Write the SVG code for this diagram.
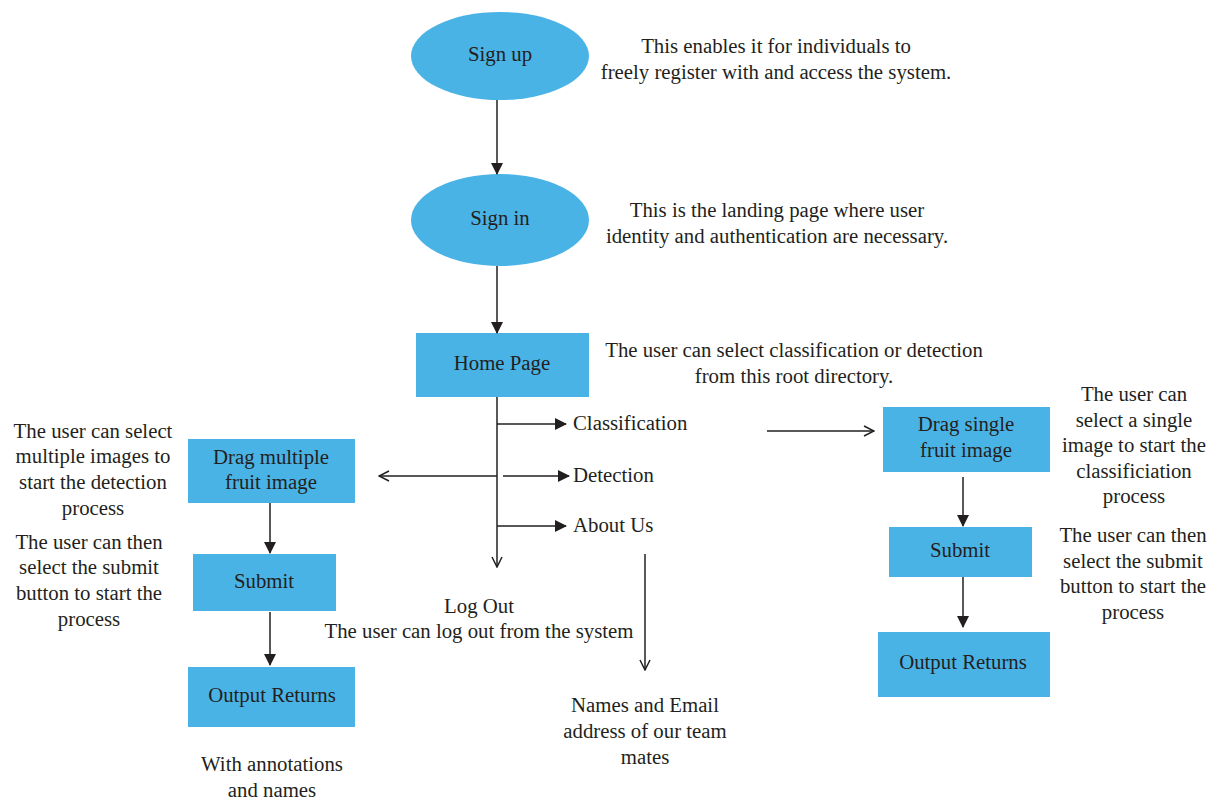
<svg xmlns="http://www.w3.org/2000/svg" width="1222" height="801" viewBox="0 0 1222 801">
<style>
.n{fill:#4AB3E6;}
text{font-family:"Liberation Serif","Times New Roman",serif;font-size:20.8px;fill:#231f20;text-anchor:middle;}
text.s{text-anchor:start;}
.l{fill:none;stroke:#231f20;stroke-width:1.5;}
</style>
<defs>
<marker id="fa" viewBox="0 0 12 12" refX="11" refY="6" markerWidth="12" markerHeight="12" markerUnits="userSpaceOnUse" orient="auto">
<path d="M0,0 L12,6 L0,12 Z" fill="#231f20"/>
</marker>
<marker id="oa" viewBox="0 0 12 12" refX="11" refY="6" markerWidth="12" markerHeight="12" markerUnits="userSpaceOnUse" orient="auto">
<path d="M1,1 L11,6 L1,11" fill="none" stroke="#231f20" stroke-width="1.5"/>
</marker>
</defs>
<rect width="1222" height="801" fill="#fff"/>
<g id="signup"><ellipse class="n" cx="500" cy="56" rx="89" ry="44"/><text x="500" y="61">Sign up</text></g>
<g id="signin"><ellipse class="n" cx="500" cy="220" rx="89" ry="46"/><text x="500" y="225">Sign in</text></g>
<g id="home"><rect class="n" x="416" y="333" width="173" height="64"/><text x="502" y="370">Home Page</text></g>
<g id="dragmulti"><rect class="n" x="188" y="439" width="167" height="64"/><text x="271" y="464">Drag multiple</text><text x="271" y="489">fruit image</text></g>
<g id="submitL"><rect class="n" x="193" y="554" width="143" height="57"/><text x="264" y="588">Submit</text></g>
<g id="outputL"><rect class="n" x="188" y="667" width="167" height="60"/><text x="272" y="702">Output Returns</text></g>
<g id="dragsingle"><rect class="n" x="883" y="407" width="167" height="65"/><text x="966" y="431">Drag single</text><text x="966" y="457">fruit image</text></g>
<g id="submitR"><rect class="n" x="889" y="527" width="143" height="50"/><text x="960" y="557">Submit</text></g>
<g id="outputR"><rect class="n" x="878" y="632" width="172" height="65"/><text x="963" y="669">Output Returns</text></g>
<g id="labels">
<text x="776" y="53">This enables it for individuals to</text>
<text x="776" y="79">freely register with and access the system.</text>
<text x="777" y="217">This is the landing page where user</text>
<text x="777" y="243">identity and authentication are necessary.</text>
<text x="794" y="357">The user can select classification or detection</text>
<text x="794" y="383">from this root directory.</text>
<text class="s" x="573" y="430">Classification</text>
<text class="s" x="573" y="482">Detection</text>
<text class="s" x="573" y="532">About Us</text>
<text x="93" y="438">The user can select</text>
<text x="93" y="463">multiple images to</text>
<text x="93" y="489">start the detection</text>
<text x="93" y="515">process</text>
<text x="89" y="549">The user can then</text>
<text x="89" y="574">select the submit</text>
<text x="89" y="600">button to start the</text>
<text x="89" y="626">process</text>
<text x="479" y="613">Log Out</text>
<text x="479" y="638">The user can log out from the system</text>
<text x="645" y="712">Names and Email</text>
<text x="645" y="738">address of our team</text>
<text x="645" y="764">mates</text>
<text x="272" y="771">With annotations</text>
<text x="272" y="797">and names</text>
<text x="1134" y="401">The user can</text>
<text x="1134" y="427">select a single</text>
<text x="1134" y="452">image to start the</text>
<text x="1134" y="478">classificiation</text>
<text x="1134" y="503">process</text>
<text x="1133" y="542">The user can then</text>
<text x="1133" y="568">select the submit</text>
<text x="1133" y="593">button to start the</text>
<text x="1133" y="619">process</text>
</g>
<g id="connectors">
<line class="l" x1="497" y1="100" x2="497" y2="174" marker-end="url(#fa)"/>
<line class="l" x1="497" y1="266" x2="497" y2="333" marker-end="url(#fa)"/>
<line class="l" x1="497" y1="397" x2="497" y2="567" marker-end="url(#oa)"/>
<line class="l" x1="497" y1="424" x2="566" y2="424" marker-end="url(#fa)"/>
<line class="l" x1="503" y1="476" x2="569" y2="476" marker-end="url(#fa)"/>
<line class="l" x1="497" y1="476" x2="379" y2="476" marker-end="url(#oa)"/>
<line class="l" x1="497" y1="526" x2="566" y2="526" marker-end="url(#fa)"/>
<line class="l" x1="645" y1="554" x2="645" y2="670" marker-end="url(#oa)"/>
<line class="l" x1="767" y1="431" x2="874" y2="431" marker-end="url(#oa)"/>
<line class="l" x1="270" y1="503" x2="270" y2="553" marker-end="url(#fa)"/>
<line class="l" x1="270" y1="612" x2="270" y2="665" marker-end="url(#fa)"/>
<line class="l" x1="963" y1="477" x2="963" y2="526" marker-end="url(#fa)"/>
<line class="l" x1="963" y1="577" x2="963" y2="627" marker-end="url(#fa)"/>
</g>
</svg>
